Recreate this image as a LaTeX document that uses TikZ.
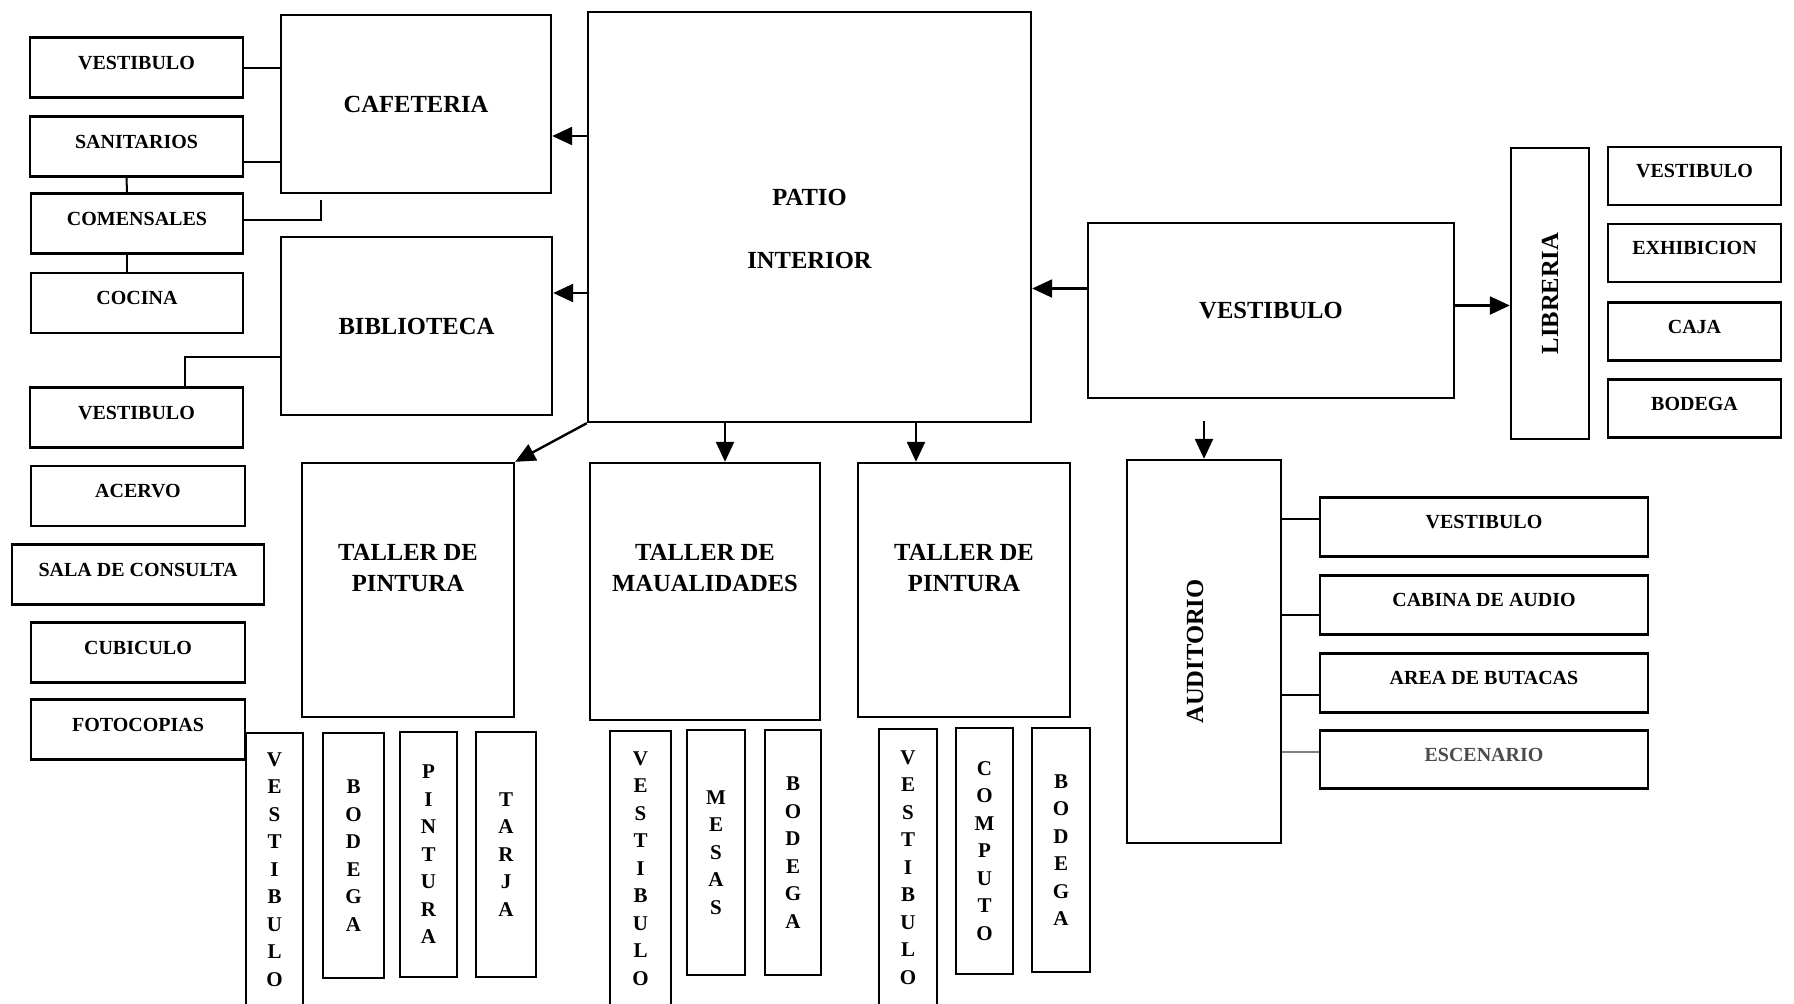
\documentclass[tikz,border=0pt]{standalone}
\usepackage{fontspec}
\setmainfont{Liberation Serif}
\usetikzlibrary{arrows.meta}

\tikzset{
  subroom/.style={draw, line width=1.1pt, inner sep=0pt, minimum height=30pt, text depth=5pt,
    font=\fontsize{10}{12}\selectfont\bfseries},
  mainroom/.style={draw, line width=1.2pt, inner sep=0pt, align=center,
    font=\fontsize{12.3}{15.5}\selectfont\bfseries},
  roomname/.style={inner sep=0pt, align=center, font=\fontsize{12.3}{15.5}\selectfont\bfseries},
  strip/.style={draw, line width=1.1pt, inner sep=0pt, align=center,
    font=\fontsize{10.5}{13.75}\selectfont\bfseries},
  link/.style={line width=1pt},
  flow/.style={line width=1.2pt, -{Triangle[length=10pt,width=9pt]}}
}

\begin{document}
\begin{tikzpicture}[x=0.5pt, y=-0.5pt]
	\useasboundingbox (0,0) rectangle (1794,1003);
	
	% Main areas
	\node[mainroom, minimum width=135pt, minimum height=89pt] (cafe) at (416,104) {CAFETERIA};
	\node[mainroom, minimum width=135.5pt, minimum height=89pt] (bib) at (416.5,326) {BIBLIOTECA};
	\node[mainroom, minimum width=221.5pt, minimum height=205pt,
		label={[roomname, yshift=-5.75pt, font=\fontsize{12.3}{31.5}\selectfont\bfseries]center:PATIO\\INTERIOR}] (patio) at (809.5,217) {};
	\node[mainroom, minimum width=183pt, minimum height=87.5pt] (vest) at (1271,310.5) {VESTIBULO};
	\node[mainroom, minimum width=39pt, minimum height=145.5pt,
		label={[roomname, rotate=90]center:LIBRERIA}] (lib) at (1550,293.5) {};
	\node[mainroom, minimum width=77pt, minimum height=191.5pt,
		label={[roomname, rotate=90, yshift=4.5pt]center:AUDITORIO}] (aud) at (1204,651.5) {};
	
	% Talleres
	\foreach \name/\x/\y/\w/\h/\txt in {tallp1/408/590/106pt/127pt/PINTURA, tallm/705/591.5/115pt/128.5pt/MAUALIDADES, tallp2/964/590/106pt/127pt/PINTURA} {
		\node[mainroom, minimum width=\w, minimum height=\h,
			label={[roomname, anchor=north, yshift=-41pt]north:TALLER DE\\\txt}] (\name) at (\x,\y) {};
	}
	
	% Left column (cafeteria and biblioteca)
	\foreach \name/\x/\y/\w/\txt in {vestc/136.5/67.5/106.5pt/VESTIBULO, sanit/136.5/146.5/106.5pt/SANITARIOS,
		comen/137/223.5/106pt/COMENSALES, cocina/137/303/106pt/COCINA, vestb/136.5/417.5/106.5pt/VESTIBULO,
		acervo/138/496/107pt/ACERVO, sala/138/574.5/126pt/SALA DE CONSULTA, cubic/138/652.5/107pt/CUBICULO,
		foto/138/729.5/107pt/FOTOCOPIAS} {
		\node[subroom, minimum width=\w] (\name) at (\x,\y) {\txt};
	}
	
	% Right column (libreria)
	\foreach \name/\y/\txt in {vestr/176/VESTIBULO, exhib/253/EXHIBICION, caja/331.5/CAJA, bodr/408.5/BODEGA} {
		\node[subroom, minimum width=86.5pt, minimum height=29pt] (\name) at (1694.5,\y) {\txt};
	}
	
	% Auditorio parts
	\foreach \name/\y/\txt in {vesta/527/VESTIBULO, cabina/605/CABINA DE AUDIO, butacas/683/AREA DE BUTACAS} {
		\node[subroom, minimum width=164pt, minimum height=29.5pt] (\name) at (1484,\y) {\txt};
	}
	\node[subroom, minimum width=164pt, minimum height=29pt, text=black!70] (esc) at (1484,759.5) {ESCENARIO};
	
	% Letter strips under the talleres
	\foreach \name/\x/\y/\w/\h/\txt in {sv1/274.5/869.5/28.5pt/136.5pt/V\\E\\S\\T\\I\\B\\U\\L\\O,
		sb1/353.5/855.5/30.5pt/122.5pt/B\\O\\D\\E\\G\\A, sp1/428.5/854.5/28.5pt/122.5pt/P\\I\\N\\T\\U\\R\\A,
		st1/506/854.5/30pt/122.5pt/T\\A\\R\\J\\A, sv2/640.5/868.5/30.5pt/137.5pt/V\\E\\S\\T\\I\\B\\U\\L\\O,
		sm2/716/852.5/29pt/122.5pt/M\\E\\S\\A\\S, sb2/793/852.5/28pt/122.5pt/B\\O\\D\\E\\G\\A,
		sv3/908/867.5/29pt/138.5pt/V\\E\\S\\T\\I\\B\\U\\L\\O, sc3/984.5/851/28.5pt/123pt/C\\O\\M\\P\\U\\T\\O,
		sb3/1061/850/29pt/122pt/B\\O\\D\\E\\G\\A} {
		\node[strip, minimum width=\w, minimum height=\h] (\name) at (\x,\y) {\txt};
	}
	
	% Cafeteria links
	\draw[link] (vestc.east) -- (vestc.east -| cafe.west);
	\draw[link] ([yshift=-7.5pt]sanit.east) -- ([yshift=-7.5pt]sanit.east -| cafe.west);
	\draw[link] ([xshift=-5pt]sanit.south) -- ([xshift=-5pt]comen.north);
	\draw[link] ([xshift=-5pt]comen.south) -- ([xshift=-5pt]cocina.north);
	\draw[link] ([yshift=1.75pt]comen.east) -| ([xshift=-47.5pt,yshift=-3pt]cafe.south);
	
	% Biblioteca link
	\draw[link] ([yshift=-15.5pt]bib.west) -| ([xshift=24pt]vestb.north);
	
	% Auditorio links
	\foreach \name/\dy in {vesta/4pt, cabina/-5pt, butacas/-6pt} {
		\draw[link] ([yshift=\dy]\name.west) -- ([yshift=\dy]\name.west -| aud.east);
	}
	\draw[link, gray, line width=0.6pt] ([yshift=3.75pt]esc.west) -- ([yshift=3.75pt]esc.west -| aud.east);
	
	% Flow arrows
	\draw[flow] ([yshift=-16pt]patio.west |- cafe.east) -- ([yshift=-16pt]cafe.east);
	\draw[flow] ([yshift=16.5pt]patio.west |- bib.east) -- ([yshift=16.5pt]bib.east);
	\draw[flow] ([yshift=11pt]vest.west) -- ([yshift=11pt]vest.west -| patio.east);
	\draw[flow] ([yshift=2.5pt]vest.east) -- ([yshift=2.5pt]vest.east -| lib.west);
	\draw[flow] ([yshift=19pt]aud.north) -- (aud.north);
	\draw[flow] (patio.south west) -- (tallp1.north east);
	\draw[flow] ([xshift=10pt]tallm.north |- patio.south) -- ([xshift=10pt]tallm.north);
	\draw[flow] ([xshift=-24pt]tallp2.north |- patio.south) -- ([xshift=-24pt]tallp2.north);
	
\end{tikzpicture}
\end{document}
